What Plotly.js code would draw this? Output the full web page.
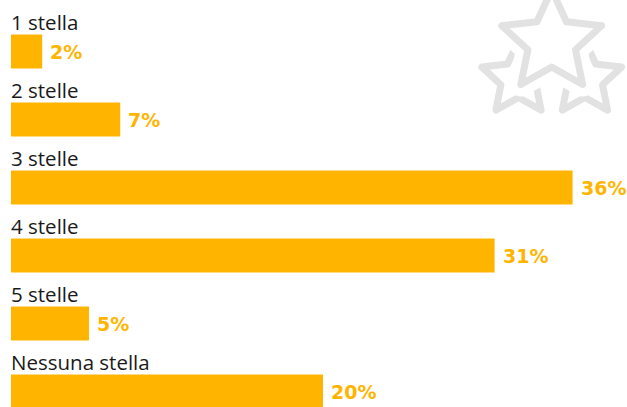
<!DOCTYPE html>
<html>
<head>
<meta charset="utf-8">
<script src="https://cdn.plot.ly/plotly-3.0.1.min.js"></script>
<style>html,body{margin:0;padding:0;background:#fff;}#chart{width:627px;height:407px;}</style>
</head>
<body>
<div id="chart"></div>
<script>
// Data
var categories = ["1 stella", "2 stelle", "3 stelle", "4 stelle", "5 stelle", "Nessuna stella"];
var values = [2, 7, 36, 31, 5, 20];
var valueLabels = ["2%", "7%", "36%", "31%", "5%", "20%"];

var BAR_COLOR = "#FFB500";
var W = 627, H = 407, ML = 11;

// Decorative star icon (SVG)
function starPts(cx, cy, R, r) {
  var pts = [];
  for (var i = 0; i < 10; i++) {
    var ang = -Math.PI / 2 + i * Math.PI / 5;
    var rad = (i % 2 === 0) ? R : r;
    pts.push((cx + rad * Math.cos(ang)).toFixed(2) + "," + (cy + rad * Math.sin(ang)).toFixed(2));
  }
  return pts.join(" ");
}
var big = starPts(551.7, 42, 52.5, 25);
var smL = starPts(518.5, 79, 38.5, 18.5);
var smR = starPts(584.9, 79, 38.5, 18.5);
var g = "#e2e2e2";
var svg = '<svg xmlns="http://www.w3.org/2000/svg" width="' + W + '" height="' + H + '" viewBox="0 0 ' + W + ' ' + H + '">' +
  '<g fill="none" stroke-linejoin="round" stroke-linecap="round">' +
  '<polygon points="' + smL + '" stroke="' + g + '" stroke-width="7"/>' +
  '<polygon points="' + smR + '" stroke="' + g + '" stroke-width="7"/>' +
  '<polygon points="' + big + '" fill="#ffffff" stroke="#ffffff" stroke-width="24"/>' +
  '<polygon points="' + big + '" stroke="' + g + '" stroke-width="7"/>' +
  '</g></svg>';
var svgUri = "data:image/svg+xml;charset=utf-8," + encodeURIComponent(svg);

var yIdx = categories.map(function (c, i) { return i; });

var trace = {
  type: "bar",
  orientation: "h",
  x: values,
  y: yIdx,
  width: 0.5,
  marker: { color: BAR_COLOR, line: { width: 0 } },
  hoverinfo: "skip"
};

var annotations = [];
categories.forEach(function (c, i) {
  annotations.push({
    xref: "paper", yref: "y", x: 0, y: i,
    xanchor: "left", yanchor: "middle",
    xshift: -2, yshift: 30,
    text: c, showarrow: false,
    font: { family: "Open Sans, sans-serif", size: 20.5, color: "#1a1a1a" }
  });
  annotations.push({
    xref: "x", yref: "y", x: values[i], y: i,
    xanchor: "left", yanchor: "middle",
    xshift: 6, yshift: 0,
    text: "<b>" + valueLabels[i] + "</b>", showarrow: false,
    font: { family: "DejaVu Sans, sans-serif", size: 19, color: BAR_COLOR }
  });
});

var pxPerUnit = 15.6;
var plotW = W - ML;
var layout = {
  width: W, height: H,
  margin: { l: ML, r: 0, t: 0, b: 0, pad: 0 },
  paper_bgcolor: "#ffffff", plot_bgcolor: "rgba(0,0,0,0)",
  showlegend: false,
  xaxis: { range: [0, plotW / pxPerUnit], visible: false, fixedrange: true },
  yaxis: { range: [(H - 51.5) / 68, -51.5 / 68], visible: false, fixedrange: true },
  annotations: annotations,
  images: [{
    source: svgUri, xref: "paper", yref: "paper",
    x: -ML / plotW, y: 1, sizex: W / plotW, sizey: 1,
    xanchor: "left", yanchor: "top", sizing: "stretch", layer: "below"
  }]
};

Plotly.newPlot("chart", [trace], layout, { displayModeBar: false, staticPlot: true });
</script>
</body>
</html>
